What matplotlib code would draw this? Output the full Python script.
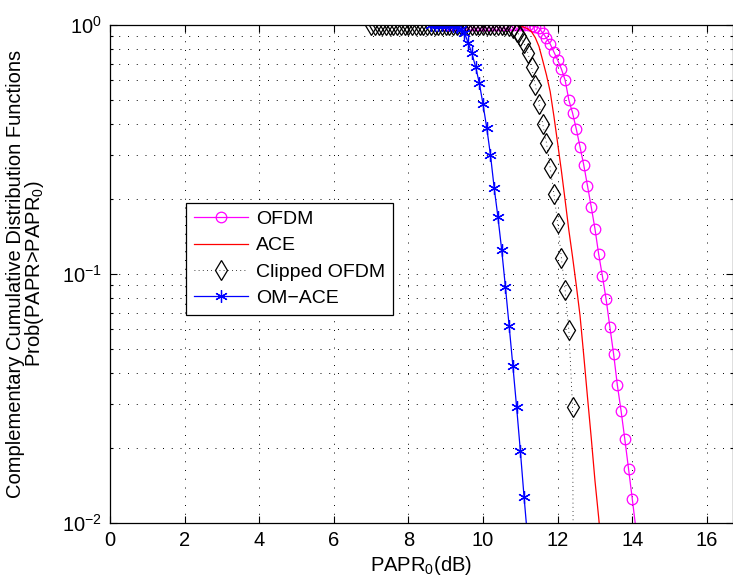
import matplotlib.pyplot as plt
from matplotlib.ticker import LogLocator, FixedLocator

plt.rcParams['font.family'] = ['Liberation Sans', 'DejaVu Sans']
plt.rcParams['mathtext.fontset'] = 'custom'
plt.rcParams['mathtext.rm'] = 'Liberation Sans'
plt.rcParams['mathtext.it'] = 'Liberation Sans'
plt.rcParams['axes.unicode_minus'] = True

# CCDF curves, PAPR0 in dB
ofdm_x = [9.0, 9.1, 9.2, 9.3, 9.4, 9.5, 9.6, 9.7, 9.8, 9.9, 10.0, 10.1, 10.2, 10.3,
          10.4, 10.5, 10.6, 10.7, 10.8, 10.9, 11.0, 11.1, 11.2, 11.3, 11.4,
          11.5, 11.6, 11.7, 11.8, 11.9, 12.0, 12.1, 12.2, 12.3, 12.4, 12.5, 12.6,
          12.7, 12.8, 12.9, 13.0, 13.1, 13.2, 13.3, 13.4, 13.5, 13.6, 13.7, 13.8,
          13.9, 14.0, 14.1]
ofdm_y = [1.0] * 21 + [0.999, 0.997, 0.993, 0.985,
          0.973, 0.929, 0.887, 0.839, 0.779, 0.723, 0.666, 0.601, 0.50, 0.443,
          0.382, 0.324, 0.274, 0.226, 0.186, 0.152, 0.120, 0.098, 0.079, 0.0612,
          0.0477, 0.0358, 0.0282, 0.0217, 0.0165, 0.0125, 0.0094]

ace_x = [10.8, 10.9, 11.0, 11.1, 11.2, 11.3, 11.4, 11.5, 11.6, 11.7, 11.8, 11.9,
         12.0, 12.1, 12.2, 12.3, 12.4, 12.5, 12.6, 12.7, 12.8, 12.9, 13.0, 13.1,
         13.2]
ace_y = [1.0, 0.995, 0.99, 0.98, 0.965, 0.94, 0.89, 0.82, 0.72, 0.63, 0.54, 0.43,
         0.335, 0.26, 0.198, 0.15, 0.117, 0.09, 0.068, 0.047, 0.032, 0.022,
         0.0148, 0.0105, 0.0072]

clip_x = [7.0, 7.1, 7.2, 7.3, 7.4, 7.5, 7.6, 7.7, 7.8, 7.9, 8.0, 8.1, 8.2, 8.3,
          8.4, 8.5, 8.6, 8.7, 8.8, 8.9, 9.0, 9.1, 9.2, 9.3, 9.4, 9.5, 9.6, 9.7,
          9.8, 9.9, 10.0, 10.1, 10.2, 10.3, 10.4, 10.5, 10.6, 10.7,
          10.8, 10.9, 11.0, 11.1, 11.2, 11.3, 11.4, 11.5, 11.6, 11.7, 11.8, 11.9,
          12.0, 12.1, 12.2, 12.3, 12.4, 12.5]
clip_y = [1.0] * 36 + [0.997, 0.99,
          0.975, 0.94, 0.90, 0.845, 0.775, 0.68, 0.575, 0.482, 0.40, 0.336, 0.267,
          0.21, 0.16, 0.116, 0.0863, 0.0596, 0.0292, 1e-5]

omace_x = [8.6, 8.7, 8.8, 8.9, 9.0, 9.1, 9.2, 9.3, 9.4,
           9.5, 9.6, 9.7, 9.8, 9.9, 10.0, 10.1, 10.2, 10.3, 10.4, 10.5, 10.6, 10.7,
           10.8, 10.9, 11.0, 11.1, 11.2]
omace_y = [1.0, 1.0, 1.0, 1.0, 1.0, 0.999, 0.995, 0.985, 0.965,
           0.93, 0.85, 0.77, 0.68, 0.585, 0.48, 0.386, 0.30, 0.221, 0.169, 0.125,
           0.0887, 0.0618, 0.0427, 0.0292, 0.0195, 0.0127, 0.0085]

fig = plt.figure(figsize=(7.33, 5.78), dpi=100)
ax = fig.add_axes([0.150, 0.0952, 0.85, 0.8615])

ax.semilogy(ofdm_x, ofdm_y, '-o', color='#ff00ff', lw=0.9, ms=7.6,
            mfc='none', mew=0.9, label='OFDM')
ax.semilogy(ace_x, ace_y, '-', color='#ff0000', lw=0.9, label='ACE')
ax.semilogy(clip_x, clip_y, color='k', lw=0.6, linestyle=(0, (1, 4)),
            marker='d', ms=10, mfc='none', mew=0.9, label='Clipped OFDM')
ax.semilogy(omace_x, omace_y, '-', color='#0000ff', lw=0.9, marker=(6, 2, 0),
            ms=9, mew=0.9, label='OM\u2212ACE')

ax.set_xlim(0, 16.7)
ax.set_ylim(1e-2, 1)
ax.xaxis.set_major_locator(FixedLocator([0, 2, 4, 6, 8, 10, 12, 14, 16]))
ax.yaxis.set_major_locator(LogLocator(base=10))
ax.yaxis.set_minor_locator(LogLocator(base=10, subs=range(2, 10)))
ax.yaxis.set_minor_formatter(plt.NullFormatter())

grid_style = dict(color='k', lw=0.7, linestyle=(0, (1, 8)))
ax.grid(True, which='major', axis='both', **grid_style)
ax.grid(True, which='minor', axis='y', **grid_style)

ax.tick_params(which='both', direction='in', top=True, right=True,
               labelsize=14.5, width=0.8)
ax.tick_params(which='major', length=5, pad=6)
ax.tick_params(which='minor', length=2.5)
for sp in ax.spines.values():
    sp.set_linewidth(0.9)

ax.set_xlabel('PAPR$_0$(dB)', fontsize=14.5, labelpad=3)
ax.set_ylabel('Complementary Cumulative Distribution Functions\n'
              'Prob(PAPR>PAPR$_0$)', fontsize=14.5, linespacing=0.88,
              labelpad=11)

leg = ax.legend(loc='lower left', bbox_to_anchor=(0.122, 0.418), fontsize=14,
                numpoints=1, handlelength=2.8, fancybox=False, framealpha=1,
                edgecolor='k', borderaxespad=0, labelspacing=0.45,
                handletextpad=0.4, borderpad=0.4)
leg.get_frame().set_linewidth(0.9)

fig.savefig('out.png', dpi=100)
